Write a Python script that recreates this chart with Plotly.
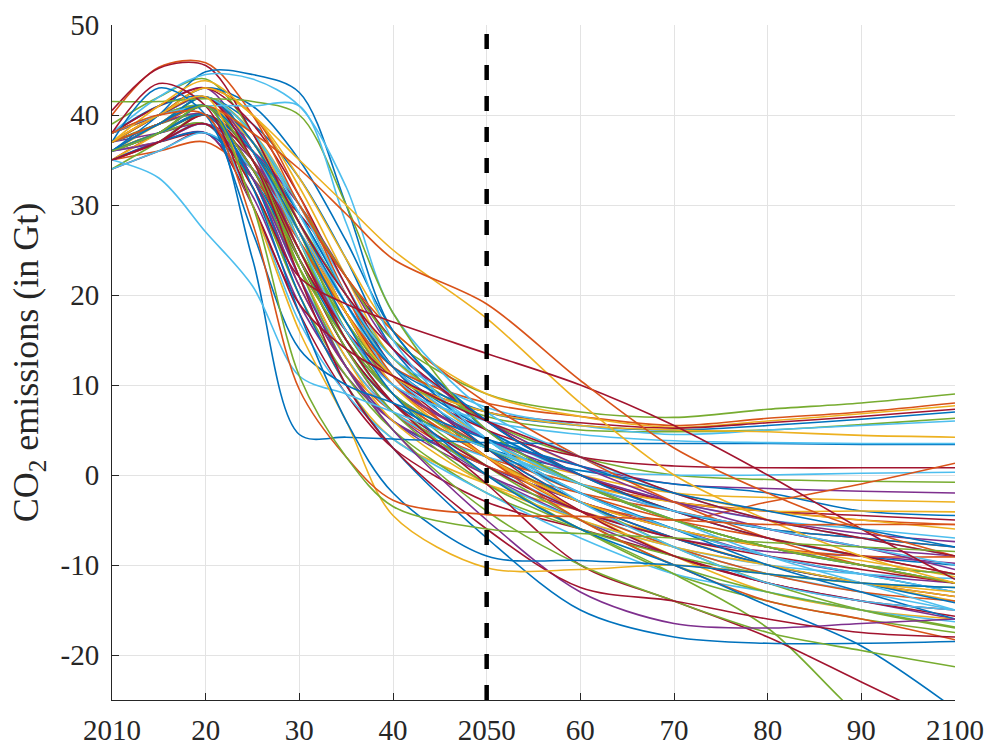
import plotly.graph_objects as go

years = [2010, 2015, 2020, 2025, 2030, 2035, 2040, 2050, 2060, 2070, 2080, 2090, 2100]
target_year = 2050

x_ticks = [2010, 2020, 2030, 2040, 2050, 2060, 2070, 2080, 2090, 2100]
x_tick_labels = ["2010", "20", "30", "40", "2050", "60", "70", "80", "90", "2100"]
y_ticks = [-20, -10, 0, 10, 20, 30, 40, 50]
y_tick_labels = ["-20", "-10", "0", "10", "20", "30", "40", "50"]

# scenarios that level off at positive emissions
plateau_scenarios = [
    [37, 39, 42, 38, 30, 22, 15, 9, 7, 6.4, 7.3, 8, 9],
    [36, 38, 41, 36, 26, 18, 12, 8, 6.5, 5.5, 6.3, 7, 8],
    [38, 40, 43, 40, 33, 24, 16, 9, 6.5, 5.3, 6, 6.8, 7.7],
    [35, 37, 40, 34, 24, 16, 11, 7, 5.8, 5.2, 5.8, 6.5, 7.3],
    [37, 39, 42, 37, 28, 19, 12, 7, 5.5, 5, 5.5, 6.2, 7],
    [36, 38, 41, 35, 25, 17, 11, 6.5, 5, 4.8, 5, 5.6, 6.3],
    [38, 40, 42, 38, 30, 20, 13, 7.5, 5.5, 4.5, 5, 5.5, 6],
    [36, 38, 41, 36, 27, 18, 11, 7, 5.5, 5, 4.8, 4.4, 4.2],
    [36, 38, 40, 24, 4.5, 4.2, 4, 3.6, 3.5, 3.5, 3.5, 3.4, 3.4],
    [37, 39, 41, 36, 26, 16, 10, 6, 4.5, 3.8, 3.6, 3.5, 3.5],
]
plateau_colours = [4, 1, 2, 6, 0, 4, 5, 2, 0, 5]

# scenarios with distinctive early paths
early_scenarios = [
    [40, 45.3, 45.8, 40, 30, 22, 16, 8, 2, -3, -7, -10, -12],
    [40.5, 45.2, 45.5, 38, 28, 20, 14, 6, 0, -4, -7, -9, -11],
    [36, 40, 44.8, 44.5, 42.5, 30, 16, 6, 0, -4, -6, -7, -8],
    [38, 42, 44.5, 44, 41, 32, 18, 7, 2, -2, -5, -7, -9],
    [41.5, 41.5, 41.8, 41.5, 40, 30, 18, 5, -1, -5, -8, -10, -12],
    [38, 40, 41, 41, 41, 28, 15, 4, -2, -6, -9, -11, -13],
    [37, 41, 43.8, 40, 35, 30, 25, 17.4, 8, 0, -5, -9, -12],
    [35, 33, 27, 21, 11, 9, 7, 3, -1, -4, -6, -8, -10],
    [35, 37, 39, 32, 22, 19, 17, 13.5, 10, 5.5, 0, -6, -11.6],
    [37, 39, 41, 38, 34, 29, 24, 19, 10.5, 3, -2, -6, -9],
    [38, 43.5, 41, 30, 19, 14, 11, 6, 2, -2, -5, -7, -9],
    [37, 43, 40, 27, 14, 10, 8, 4, 1, -2, -4, -6, -8],
    [37, 40, 42, 30, 16, 6, -4.5, -10.3, -10.5, -10, -11, -12, -13],
    [36, 39, 41, 32, 18, 6, -2, -9, -9.5, -10, -11, -12, -12.5],
    [38, 40, 40, 28, 9.5, 2, -2.8, -4.4, -4.6, -5, -5.5, -5.5, -5.5],
    [36, 38, 41, 30, 11, 2, -3.5, -6, -6.5, -7, -7.5, -8, -8.5],
]
early_colours = [1, 6, 0, 5, 4, 5, 2, 5, 6, 1, 6, 0, 2, 0, 1, 4]

# scenarios that fall steeply at the end of the century
deep_scenarios = [
    [36, 38, 40, 34, 24, 14, 7, -1, -6, -11, -17, -27, -35],
    [37, 39, 41, 35, 25, 15, 8, -1, -10, -14, -18, -23, -28],
    [36, 38, 41, 36, 27, 17, 9, 0, -6, -10, -14.5, -19, -26],
    [36, 38, 40, 33, 20, 10, 3, -7, -15, -18, -18.7, -18.7, -18.5],
    [37, 39, 41, 35, 23, 12, 5, -4, -10, -14, -17.5, -19.5, -21.3],
    [36, 37, 39, 33, 22, 12, 5, -5, -13, -16.5, -17, -16.5, -16],
    [38, 40, 42, 35, 22, 10, 3, -6, -12.5, -14, -16, -17.5, -18],
]
deep_colours = [4, 6, 0, 0, 4, 3, 6]

# bulk of the scenarios
main_scenarios = [
    [36, 38, 40, 34, 22, 12, 6, 1, -3, -6, -8, -10, -12],
    [37, 40, 42, 38, 28, 18, 10, 3, -2, -5, -7, -9, -11],
    [35, 37, 39, 32, 20, 10, 4, -1, -4, -7, -10, -12, -14],
    [38, 41, 43, 36, 24, 14, 7, 0, -5, -9, -12, -14, -16],
    [36, 39, 41, 35, 26, 17, 10, 4, -1, -5, -8, -10, -12],
    [37, 39, 41, 37, 30, 21, 13, 5, 0, -3, -5, -6, -7],
    [34, 36, 38, 30, 18, 9, 3, -3, -6, -9, -12, -14, -15],
    [38, 40, 42, 39, 33, 24, 14, 4, -2, -6, -9, -11, -13],
    [36, 38, 40, 33, 21, 12, 7, 2, -1, -3, -4, -5, -5.5],
    [37, 40, 43, 40, 32, 22, 13, 6, 1, -2, -4, -5, -6],
    [35, 37, 38, 31, 19, 11, 6, 1, -3, -6, -9, -11, -12],
    [39, 42, 44, 38, 27, 16, 9, 2, -3, -8, -12, -15, -17],
    [36, 38, 39, 34, 25, 15, 8, 1, -4, -8, -11, -13, -15],
    [37, 39, 41, 36, 27, 18, 11, 3, -3, -7, -10, -12, -13.5],
    [38, 41, 42, 37, 29, 20, 12, 5, 0, -4, -7, -9, -10],
    [35, 36, 37, 33, 26, 18, 11, 2, -4, -8, -11, -13, -14],
    [36, 39, 42, 38, 28, 18, 10, 2, -4, -9, -13, -15, -16],
    [37, 38, 39, 35, 27, 19, 12, 4, -1, -4, -6, -8, -9],
    [34, 37, 40, 32, 20, 11, 5, -2, -6, -9, -11, -12, -12.5],
    [38, 40, 41, 36, 26, 15, 8, 0, -5, -8, -10, -11, -11.5],
    [36, 37, 38, 34, 29, 22, 15, 6, 0, -3, -4, -4.5, -5],
    [37, 40, 43, 41, 35, 26, 16, 5, -1, -5, -8, -10, -11],
    [35, 38, 40, 34, 23, 13, 7, 1, -2, -4, -6, -7, -8],
    [36, 38, 40, 35, 24, 14, 8, 3, 0, -2, -2.5, -2.8, -3],
    [38, 40, 42, 37, 28, 18, 10, 4, 1, -1, -1.5, -1.8, -2],
    [37, 39, 40, 36, 28, 20, 13, 6, 2, 0, -0.5, -0.7, -0.8],
    [36, 37, 39, 33, 22, 13, 7, 2, 0.5, 0, 0, 0.2, 0.3],
    [35, 37, 40, 36, 27, 18, 11, 5, 2, 1, 0.8, 0.8, 0.8],
    [37, 39, 41, 35, 24, 14, 8, 3, 0.5, -1, -2, -4, -4.5],
    [36, 38, 40, 34, 25, 16, 9, 2, -3, -5, -3, -1, 1.3],
    [38, 40, 41, 38, 30, 20, 12, 4, -1, -3, -4, -4, -4.1],
    [36, 39, 40, 33, 21, 12, 6, 0, -4, -7, -8.5, -9, -9.8],
    [37, 39, 42, 37, 26, 15, 8, 0, -6, -11, -14, -16, -17.5],
    [35, 37, 39, 30, 17, 9, 4, -2, -7, -11, -13, -15, -16.3],
    [38, 41, 43, 39, 31, 21, 12, 3, -4, -9, -12, -14, -15.7],
    [36, 38, 40, 36, 29, 20, 12, 3, -3, -7, -10, -12, -14.2],
    [37, 40, 42, 36, 25, 15, 9, 2, -3, -6, -8, -9, -9.1],
    [35, 38, 41, 35, 23, 13, 6, -1, -5, -8, -10, -12, -13.5],
    [36, 38, 39, 36, 30, 22, 14, 6, 1, -3, -6, -8, -10.5],
    [38, 40, 41, 37, 27, 16, 9, 1, -5, -10, -13, -15, -16.9],
    [37, 39, 42, 38, 29, 19, 11, 4, -1, -5, -9, -12, -15],
    [36, 38, 40, 35, 24, 14, 8, 1, -4, -7, -9, -10.5, -12],
    [35, 37, 38, 33, 24, 15, 9, 3, -2, -6, -10, -13, -16],
    [37, 40, 43, 40, 31, 20, 11, 2, -5, -10, -14, -16, -18.3],
    [36, 39, 41, 37, 28, 18, 10, 2, -3, -6, -8, -9.5, -11.3],
    [38, 40, 42, 36, 25, 16, 10, 4, 0, -3, -5, -6.5, -7.4],
    [36, 38, 39, 33, 23, 15, 9, 3, -1, -5, -8, -10, -11],
    [34, 36, 38, 34, 27, 19, 12, 4, -3, -8, -12, -14, -15],
]
main_colours = [k % 7 for k in range(len(main_scenarios))]

palette = ["#0072BD", "#D95319", "#EDB120", "#7E2F8E", "#77AC30", "#4DBEEE", "#A2142F"]

fig = go.Figure()
groups = [(main_scenarios, main_colours), (plateau_scenarios, plateau_colours),
          (deep_scenarios, deep_colours), (early_scenarios, early_colours)]
for series_list, colour_idx in groups:
    for values, ci in zip(series_list, colour_idx):
        fig.add_trace(go.Scatter(
            x=years, y=values, mode="lines",
            line=dict(color=palette[ci], width=1.6, shape="spline", smoothing=0.9),
            showlegend=False, hoverinfo="skip"))

fig.add_vline(x=target_year, line=dict(color="black", width=4.5, dash="15px,16px"), layer="above")

font_family = "Liberation Serif, DejaVu Serif, serif"
fig.update_layout(
    width=990, height=747,
    margin=dict(l=112, r=35, t=25, b=47),
    paper_bgcolor="white", plot_bgcolor="white",
    font=dict(family=font_family, size=29, color="#262626"),
    showlegend=False,
)
fig.update_xaxes(
    range=[2010, 2100], tickmode="array", tickvals=x_ticks, ticktext=x_tick_labels,
    showgrid=True, gridcolor="#E3E3E3", gridwidth=1,
    showline=True, linecolor="#262626", linewidth=1,
    ticks="inside", ticklen=7, tickcolor="#262626", zeroline=False,
    tickfont=dict(size=29), automargin=False, ticklabelstandoff=4,
)
fig.update_yaxes(
    range=[-25, 50], tickmode="array", tickvals=y_ticks, ticktext=y_tick_labels,
    showgrid=True, gridcolor="#E3E3E3", gridwidth=1,
    showline=True, linecolor="#262626", linewidth=1,
    ticks="inside", ticklen=7, tickcolor="#262626", zeroline=False,
    tickfont=dict(size=29), automargin=False, ticklabelstandoff=6,
    title=dict(text="CO<sub>2</sub> emissions (in Gt)", font=dict(size=36), standoff=10),
)

# remove the default page margin so the figure fills the window exactly
fig.write_html(
    "out.html",
    config={"displayModeBar": False},
    post_script="document.body.style.margin='0';document.body.style.overflow='hidden';",
)
